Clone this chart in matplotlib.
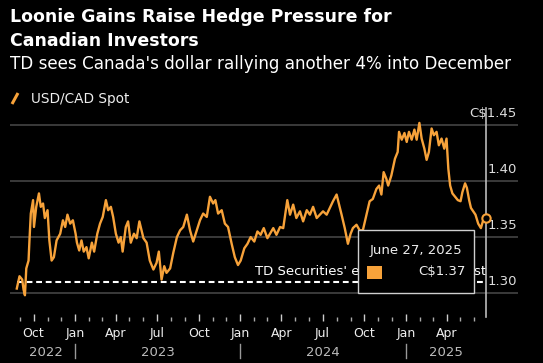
"""
USD/CAD spot chart, Bloomberg dark style.
"""

import matplotlib
matplotlib.use("Agg")
import matplotlib.pyplot as plt
import matplotlib.dates as mdates
from matplotlib.patches import Rectangle
from matplotlib.lines import Line2D
from matplotlib.ticker import FixedLocator
import pandas as pd

# USD/CAD spot
dates = [
    "2022-08-25", "2022-08-31", "2022-09-06", "2022-09-09", "2022-09-12", "2022-09-15",
    "2022-09-20", "2022-09-22", "2022-09-25", "2022-09-30", "2022-10-02", "2022-10-07",
    "2022-10-13", "2022-10-17", "2022-10-22", "2022-10-26", "2022-11-01", "2022-11-05",
    "2022-11-10", "2022-11-15", "2022-11-21", "2022-11-29", "2022-12-05", "2022-12-10",
    "2022-12-15", "2022-12-21", "2022-12-27", "2023-01-02", "2023-01-05", "2023-01-10",
    "2023-01-15", "2023-01-20", "2023-01-26", "2023-01-31", "2023-02-07", "2023-02-12",
    "2023-02-19", "2023-02-25", "2023-03-03", "2023-03-10", "2023-03-15", "2023-03-21",
    "2023-03-26", "2023-04-01", "2023-04-07", "2023-04-12", "2023-04-16", "2023-04-23",
    "2023-04-28", "2023-05-04", "2023-05-11", "2023-05-17", "2023-05-23", "2023-06-01",
    "2023-06-08", "2023-06-15", "2023-06-23", "2023-06-30", "2023-07-05", "2023-07-11",
    "2023-07-17", "2023-07-22", "2023-07-30", "2023-08-06", "2023-08-14", "2023-08-21",
    "2023-08-28", "2023-09-05", "2023-09-12", "2023-09-19", "2023-09-27", "2023-10-04",
    "2023-10-11", "2023-10-19", "2023-10-26", "2023-11-02", "2023-11-07", "2023-11-13",
    "2023-11-21", "2023-11-28", "2023-12-05", "2023-12-13", "2023-12-20", "2023-12-27",
    "2024-01-02", "2024-01-10", "2024-01-17", "2024-01-24", "2024-02-01", "2024-02-08",
    "2024-02-15", "2024-02-22", "2024-03-01", "2024-03-14", "2024-03-21", "2024-03-29",
    "2024-04-05", "2024-04-14", "2024-04-20", "2024-04-27", "2024-05-04", "2024-05-12",
    "2024-05-19", "2024-05-27", "2024-06-03", "2024-06-10", "2024-06-18", "2024-06-25",
    "2024-07-02", "2024-07-10", "2024-07-17", "2024-07-24", "2024-08-01", "2024-08-06",
    "2024-08-12", "2024-08-19", "2024-08-26", "2024-09-01", "2024-09-06", "2024-09-14",
    "2024-09-21", "2024-09-28", "2024-10-06", "2024-10-13", "2024-10-20", "2024-10-28",
    "2024-11-03", "2024-11-08", "2024-11-13", "2024-11-19", "2024-11-23", "2024-11-30",
    "2024-12-08", "2024-12-14", "2024-12-17", "2024-12-23", "2024-12-29", "2025-01-03",
    "2025-01-08", "2025-01-14", "2025-01-20", "2025-01-25", "2025-01-31", "2025-02-05",
    "2025-02-11", "2025-02-16", "2025-02-21", "2025-02-27", "2025-03-04", "2025-03-10",
    "2025-03-15", "2025-03-21", "2025-03-27", "2025-04-01", "2025-04-05", "2025-04-09",
    "2025-04-14", "2025-04-20", "2025-04-26", "2025-05-02", "2025-05-06", "2025-05-12",
    "2025-05-16", "2025-05-21", "2025-05-25", "2025-05-30", "2025-06-04", "2025-06-10",
    "2025-06-16", "2025-06-21", "2025-06-27",
]
values = [
    1.304, 1.315, 1.312, 1.303, 1.298, 1.322,
    1.329, 1.347, 1.371, 1.383, 1.359, 1.377,
    1.389, 1.377, 1.380, 1.367, 1.374, 1.347,
    1.329, 1.332, 1.347, 1.353, 1.365, 1.359,
    1.370, 1.362, 1.365, 1.353, 1.345, 1.338,
    1.347, 1.337, 1.341, 1.331, 1.345, 1.337,
    1.353, 1.362, 1.368, 1.383, 1.374, 1.377,
    1.368, 1.353, 1.345, 1.350, 1.337, 1.359,
    1.364, 1.345, 1.353, 1.349, 1.364, 1.349,
    1.345, 1.329, 1.321, 1.327, 1.337, 1.312,
    1.324, 1.318, 1.322, 1.336, 1.350, 1.356,
    1.359, 1.370, 1.356, 1.346, 1.356, 1.365,
    1.371, 1.368, 1.386, 1.380, 1.383, 1.371,
    1.374, 1.362, 1.359, 1.344, 1.332, 1.325,
    1.329, 1.340, 1.344, 1.350, 1.346, 1.355,
    1.352, 1.358, 1.349, 1.358, 1.352, 1.359,
    1.358, 1.383, 1.370, 1.379, 1.367, 1.373,
    1.364, 1.374, 1.370, 1.377, 1.367, 1.370,
    1.373, 1.370, 1.376, 1.382, 1.388, 1.380,
    1.370, 1.358, 1.344, 1.353, 1.358, 1.361,
    1.356, 1.356, 1.370, 1.382, 1.384, 1.393,
    1.396, 1.388, 1.408, 1.402, 1.396, 1.405,
    1.420, 1.426, 1.444, 1.437, 1.443, 1.435,
    1.444, 1.437, 1.446, 1.437, 1.452, 1.438,
    1.429, 1.419, 1.426, 1.447, 1.441, 1.444,
    1.432, 1.438, 1.429, 1.438, 1.411, 1.396,
    1.389, 1.386, 1.383, 1.382, 1.390, 1.398,
    1.394, 1.383, 1.376, 1.373, 1.370, 1.362,
    1.358, 1.365, 1.367,
]
dates = pd.to_datetime(dates)

forecast = 1.31
y_ticks = [1.30, 1.35, 1.40, 1.45]
years = [2022, 2023, 2024, 2025]

title = "Loonie Gains Raise Hedge Pressure for\nCanadian Investors"
subtitle = "TD sees Canada's dollar rallying another 4% into December"
series_name = "USD/CAD Spot"
forecast_label = "TD Securities' end-of-year forecast"

ORANGE = "#F7A23A"
GRID = "#4a4a4a"
W, H = 543, 363

fig = plt.figure(figsize=(W / 100, H / 100), dpi=100, facecolor="black")

# header
fig.text(10 / W, 1 - 8 / H, title, ha="left", va="top", color="white",
         fontsize=12.5, fontweight="bold", linespacing=1.45)
fig.text(10 / W, 1 - 64 / H, subtitle, ha="left", va="center", color="white",
         fontsize=12.1)
fig.add_artist(Line2D([12 / W, 18 / W], [1 - 104 / H, 1 - 93 / H],
                      color=ORANGE, lw=2.2, solid_capstyle="butt"))
fig.text(31 / W, 1 - 99 / H, series_name, ha="left", va="center",
         color="#eeeeee", fontsize=9.8)

ax = fig.add_axes([10 / W, 1 - 321 / H, 508 / W, 216 / H])
ax.set_facecolor("black")
for s in ax.spines.values():
    s.set_visible(False)

ax.set_ylim(1.275, 1.468)
ax.set_xlim(pd.Timestamp("2022-08-10"), pd.Timestamp("2025-09-06"))

# grid + right-side labels
ax.set_yticks(y_ticks)
ax.yaxis.grid(True, color=GRID, lw=1.1)
ax.tick_params(axis="y", length=0, labelleft=False)
for v in y_ticks:
    label = f"C${v:.2f}" if v == max(y_ticks) else f"{v:.2f}"
    ax.annotate(label, xy=(0.998, v), xycoords=("axes fraction", "data"),
                xytext=(0, 8.5), textcoords="offset points",
                ha="right", va="center", color="#dddddd", fontsize=9.5)

# x axis: ticks only over the span of the data
months = pd.date_range(dates[0], dates[-1], freq="MS")
quarters = [m for m in months if m.month in (1, 4, 7, 10)]
ax.xaxis.set_major_locator(FixedLocator(mdates.date2num(quarters)))
ax.xaxis.set_minor_locator(FixedLocator(mdates.date2num(months)))
ax.xaxis.set_major_formatter(mdates.DateFormatter("%b"))
ax.tick_params(axis="x", which="major", direction="in", length=5, width=1,
               color="#cccccc", labelcolor="#eeeeee", labelsize=9, pad=4)
ax.tick_params(axis="x", which="minor", direction="in", length=3, width=1,
               color="#aaaaaa")

# year row
for yr in years:
    start = max(dates[0], pd.Timestamp(f"{yr}-01-01"))
    end = min(dates[-1], pd.Timestamp(f"{yr + 1}-01-01"))
    ax.text(start + (end - start) / 2, -0.145, str(yr), transform=ax.get_xaxis_transform(),
            ha="center", va="center", color="#bbbbbb", fontsize=9.5, clip_on=False)
    if yr > years[0]:
        jan = mdates.date2num(pd.Timestamp(f"{yr}-01-01"))
        ax.add_line(Line2D([jan, jan], [-0.106, -0.171], transform=ax.get_xaxis_transform(),
                           color="#999999", lw=1, clip_on=False))

# series
ax.plot(dates, values, color=ORANGE, lw=1.7, solid_joinstyle="round", zorder=3)

# forecast line
ax.plot([dates[0], dates[-1]], [forecast, forecast], color="white", lw=1.5,
        dashes=(2.8, 1.8), zorder=2)
ax.annotate(forecast_label, xy=(dates[-1], forecast), xytext=(0, 7.2),
            textcoords="offset points", ha="right", va="center",
            color="white", fontsize=9.5, zorder=2)

# hover crosshair + tooltip
ax.axvline(dates[-1], ymin=0.018, ymax=0.986, color="#bbbbbb", lw=1.2, zorder=4)
ax.plot(dates[-1], values[-1], "o", ms=6, mfc="black", mec=ORANGE, mew=1.5, zorder=6)

ax.add_patch(Rectangle((0.685, 0.1296), 0.2283, 0.2917, transform=ax.transAxes,
                       fc="black", ec="#cfcfcf", lw=1, zorder=7))
ax.add_patch(Rectangle((0.7028, 0.1944), 0.0295, 0.0602, transform=ax.transAxes,
                       fc=ORANGE, ec="none", zorder=8))
ax.text(0.800, 0.3287, f"{dates[-1]:%B} {dates[-1].day}, {dates[-1].year}",
        transform=ax.transAxes, ha="center", va="center", color="#eeeeee",
        fontsize=9.5, zorder=8)
ax.text(0.897, 0.2269, f"C${values[-1]:.2f}", transform=ax.transAxes,
        ha="right", va="center", color="#eeeeee", fontsize=9.5, zorder=8)

fig.savefig("out.png", dpi=100, facecolor="black")
plt.close(fig)
